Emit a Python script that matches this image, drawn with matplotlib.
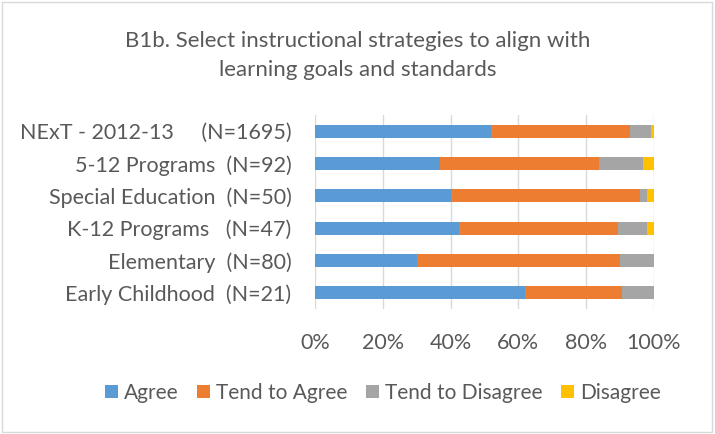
import matplotlib.pyplot as plt
from matplotlib.patches import Rectangle
import numpy as np

plt.rcParams['font.family'] = ['Lato', 'DejaVu Sans']

# rows, top to bottom as shown
groups = ["NExT - 2012-13     (N=1695)", "5-12 Programs  (N=92)", "Special Education  (N=50)",
          "K-12 Programs   (N=47)", "Elementary  (N=80)", "Early Childhood  (N=21)"]
agree = [51.8, 36.96, 40.0, 42.55, 30.0, 61.9]
tend_agree = [41.0, 46.74, 56.0, 46.81, 60.0, 28.57]
tend_disagree = [6.2, 13.04, 2.0, 8.51, 10.0, 9.52]
disagree = [1.0, 3.26, 2.0, 2.13, 0.0, 0.0]

series = ["Agree", "Tend to Agree", "Tend to Disagree", "Disagree"]
colors = ["#5b9bd5", "#ed7d31", "#a5a5a5", "#ffc000"]
txt = "#595959"

fig = plt.figure(figsize=(7.15, 4.34), dpi=100)
ax = fig.add_axes([315/715, 1-309/434, 339/715, 194/434])

y = np.arange(len(groups))[::-1]
left = np.zeros(len(groups))
for name, vals, c in zip(series, [agree, tend_agree, tend_disagree, disagree], colors):
    vals = np.array(vals)
    ax.barh(y, vals, left=left, height=0.4, color=c, label=name, zorder=3)
    left += vals

ax.set_xlim(0, 100)
ax.set_ylim(-0.5, len(groups) - 0.5)
ax.set_xticks(np.arange(0, 101, 20))
ax.set_xticklabels([f"{v}%" for v in range(0, 101, 20)])
ax.set_yticks(y)
ax.set_yticklabels(groups)
ax.tick_params(length=0, labelsize=15.5, colors=txt)
ax.tick_params(axis='x', pad=17)
ax.tick_params(axis='y', pad=17)
ax.grid(axis='x', color="#d9d9d9", linewidth=1, zorder=0)
for s in ax.spines.values():
    s.set_visible(False)

fig.text(0.5, 1-41/434, "B1b. Select instructional strategies to align with", ha='center', va='center',
         fontsize=16, color=txt)
fig.text(0.5, 1-70/434, "learning goals and standards", ha='center', va='center',
         fontsize=16, color=txt)

fig.legend(loc='center', bbox_to_anchor=(383/715, 1-393/434), ncol=4, frameon=False,
           fontsize=15, labelcolor=txt, handlelength=0.6, handleheight=0.6,
           columnspacing=0.9, handletextpad=0.3)

fig.patches.append(Rectangle((0.003, 0.004), 0.993, 0.991, transform=fig.transFigure,
                             fill=False, edgecolor="#d9d9d9", linewidth=1))

fig.savefig("out.png", dpi=100)
